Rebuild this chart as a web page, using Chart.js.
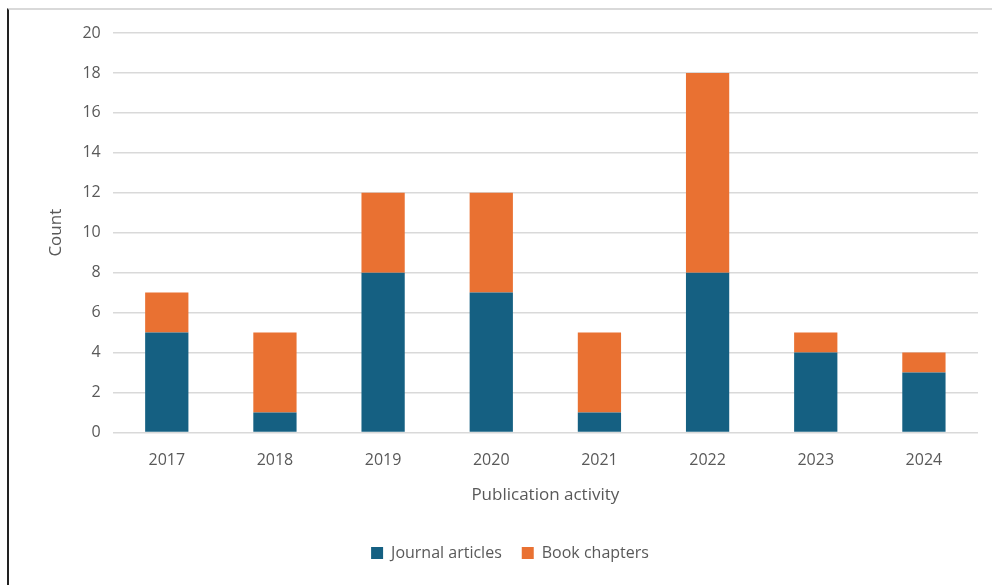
<!DOCTYPE html>
<html>
<head>
<meta charset="utf-8">
<script src="https://cdn.jsdelivr.net/npm/chart.js@4"></script>
<style>
  html, body { margin: 0; padding: 0; background: #fff; }
  #wrap { position: relative; width: 992px; height: 585px; }
  #frame { position: absolute; left: 7px; top: 8px; width: 985px; height: 577px;
           border-left: 2px solid #222; border-top: 2px solid #d9d9d9; box-sizing: border-box; }
  canvas { position: absolute; left: 0; top: 0; }
</style>
</head>
<body>
<div id="wrap">
  <div id="frame"></div>
  <canvas id="grafico" width="992" height="585"></canvas>
</div>
<script>
const years = ['2017', '2018', '2019', '2020', '2021', '2022', '2023', '2024'];
const journalArticles = [5, 1, 8, 7, 1, 8, 4, 3];
const bookChapters = [2, 4, 4, 5, 4, 10, 1, 1];

Chart.defaults.font.family = '"Open Sans", "Noto Sans", sans-serif';
Chart.defaults.color = '#595959';

const ctx = document.getElementById('grafico');

new Chart(ctx, {
  type: 'bar',
  data: {
    labels: years,
    datasets: [{
      label: 'Journal articles',
      data: journalArticles,
      backgroundColor: '#156082',
      categoryPercentage: 1,
      barPercentage: 0.4
    }, {
      label: 'Book chapters',
      data: bookChapters,
      backgroundColor: '#e97132',
      categoryPercentage: 1,
      barPercentage: 0.4
    }]
  },
  options: {
    responsive: false,
    animation: false,
    layout: {
      padding: { left: 42, right: 14, top: 33, bottom: 14 }
    },
    plugins: {
      legend: {
        position: 'bottom',
        labels: {
          boxWidth: 12,
          boxHeight: 12,
          padding: 20,
          font: { size: 16 }
        }
      },
      tooltip: { enabled: false }
    },
    scales: {
      x: {
        stacked: true,
        grid: { display: false },
        border: { display: false },
        ticks: { font: { size: 16 }, padding: 10 },
        title: {
          display: true,
          text: 'Publication activity',
          font: { size: 17 },
          padding: { top: 5, bottom: 20 }
        }
      },
      y: {
        stacked: true,
        min: 0,
        max: 20,
        ticks: { stepSize: 2, font: { size: 16 }, padding: 12 },
        grid: { color: '#d9d9d9', lineWidth: 1.5, drawTicks: false },
        border: { display: false },
        title: {
          display: true,
          text: 'Count',
          font: { size: 17 },
          padding: { bottom: 4 }
        }
      }
    }
  }
});
</script>
</body>
</html>
